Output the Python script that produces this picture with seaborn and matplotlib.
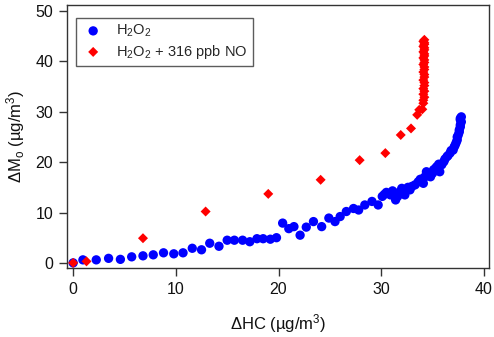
import matplotlib
matplotlib.use("Agg")
import matplotlib.pyplot as plt
import seaborn as sns
import pandas as pd

# ---- data ----
h2o2_x = [0, 0.95, 2.25, 3.45, 4.6, 5.7, 6.8, 7.8, 8.8, 9.8, 10.7, 11.6, 12.5, 13.3,
          14.2, 15.0, 15.7, 16.5, 17.2, 17.9, 18.5, 19.2, 19.8, 20.4, 21.0, 21.5,
          22.1, 22.7, 23.4, 24.2, 24.9, 25.5, 26.0, 26.6, 27.3, 27.8, 28.4, 29.1,
          29.7, 30.1, 30.5, 30.9, 31.4, 31.8, 32.3, 32.8, 33.3, 33.6, 34.1, 34.4,
          34.8, 35.1, 35.4, 35.7, 36.1, 36.4, 36.7, 37.0, 37.2, 37.4, 37.5, 37.6,
          37.7, 37.7,
          30.3, 31.1, 31.6, 32.0, 32.6, 33.0, 33.8, 34.2, 34.6, 35.0, 35.3, 35.6,
          35.9, 36.2, 36.5, 36.8, 37.1, 37.3, 37.4, 37.6, 37.7, 37.8, 37.7, 37.8]
h2o2_y = [0, 0.6, 0.6, 0.9, 0.7, 1.2, 1.4, 1.6, 2.0, 1.8, 2.0, 2.9, 2.6, 3.9,
          3.3, 4.5, 4.5, 4.5, 4.2, 4.8, 4.8, 4.7, 5.0, 7.9, 6.8, 7.2,
          5.5, 7.1, 8.2, 7.2, 8.9, 8.2, 9.2, 10.2, 10.8, 10.5, 11.5, 12.2,
          11.5, 13.2, 14.0, 13.5, 12.5, 14.1, 13.5, 14.5, 15.5, 16.1, 15.8, 18.1,
          17.1, 18.5, 19.1, 18.1, 20.1, 21.1, 21.8, 22.4, 23.4, 24.4, 25.4, 26.4,
          27.4, 28.4,
          13.6, 14.3, 13.2, 14.8, 15.0, 15.2, 16.6, 17.0, 17.6, 17.8, 18.8, 19.6,
          19.5, 20.6, 21.3, 22.3, 23.0, 23.9, 25.0, 26.0, 27.0, 28.0, 28.7, 29.0]

no_x = [0, 1.3, 6.8, 12.9, 19.0, 24.1, 27.9, 30.4, 31.9, 32.9, 33.5, 33.7, 34.0,
        34.1, 34.1, 34.2, 34.1, 34.2, 34.1, 34.2, 34.2, 34.1, 34.2, 34.2, 34.1,
        34.2, 34.2, 34.1, 34.2, 34.2, 34.1, 34.2, 34.2, 34.1, 34.2, 34.2, 34.1,
        34.2, 34.2, 34.1, 34.2]
no_y = [0, 0.3, 4.9, 10.2, 13.7, 16.5, 20.4, 21.8, 25.4, 26.7, 29.4, 30.4, 30.5,
        31.7, 32.3, 32.9, 33.5, 34.1, 34.6, 35.2, 35.8, 36.3, 36.9, 37.4, 37.9,
        38.4, 38.9, 39.4, 39.8, 40.3, 40.7, 41.1, 41.5, 41.9, 42.3, 42.7, 43.0,
        43.4, 43.7, 44.0, 44.3]

label_a = "H$_2$O$_2$"
label_b = "H$_2$O$_2$ + 316 ppb NO"

df_a = pd.DataFrame({"x": h2o2_x, "y": h2o2_y})
df_b = pd.DataFrame({"x": no_x, "y": no_y})

sns.set_style("ticks")
plt.rcParams["font.family"] = ["Liberation Sans", "DejaVu Sans"]
plt.rcParams["mathtext.fontset"] = "custom"
plt.rcParams["mathtext.rm"] = "Liberation Sans"
plt.rcParams["mathtext.it"] = "Liberation Sans"
plt.rcParams["mathtext.default"] = "regular"

fig = plt.figure(figsize=(4.94, 3.37), dpi=100)
ax = fig.add_axes([0.1356, 0.205, 0.99 - 0.1356, 0.985 - 0.205])

sns.scatterplot(data=df_a, x="x", y="y", ax=ax, color="#0000ff", marker="o",
                s=45, edgecolor="none", label=label_a, zorder=2)
sns.scatterplot(data=df_b, x="x", y="y", ax=ax, color="#ff0000", marker="D",
                s=26, edgecolor="none", label=label_b, zorder=3)

ax.set_xlim(-0.6, 40.5)
ax.set_ylim(-1.0, 51.2)
ax.set_xticks([0, 10, 20, 30, 40])
ax.set_yticks([0, 10, 20, 30, 40, 50])
ax.tick_params(axis="both", direction="out", length=6, width=1, labelsize=11.5,
               colors="#333333", labelcolor="#111111", pad=4)
ax.tick_params(top=False, right=False)
for sp in ax.spines.values():
    sp.set_visible(True)
    sp.set_color("#333333")
    sp.set_linewidth(1.0)

ax.set_xlabel("ΔHC (µg/m$^3$)", fontsize=12, color="#111111", labelpad=11)
ax.set_ylabel("ΔM$_o$ (µg/m$^3$)", fontsize=12, color="#111111", labelpad=6)

leg = ax.legend(loc="upper left", bbox_to_anchor=(0.005, 0.98), frameon=True,
                fancybox=False, fontsize=10.5, handletextpad=0.8,
                borderpad=0.35, labelspacing=0.25, handlelength=1.6)
leg.get_frame().set_edgecolor("#333333")
leg.get_frame().set_linewidth(1.0)

fig.savefig("out.png", dpi=100)
